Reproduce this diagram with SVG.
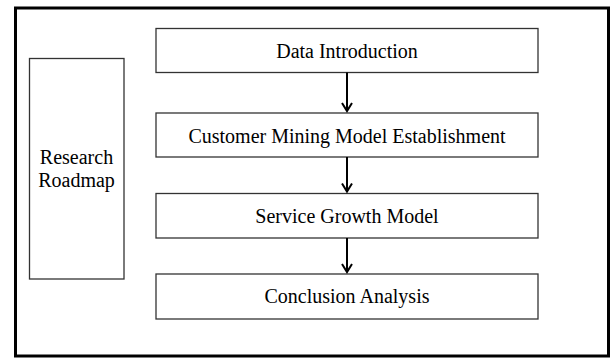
<svg xmlns="http://www.w3.org/2000/svg" width="613" height="361" viewBox="0 0 613 361">
  <defs>
    <style>
      .box { fill: #ffffff; stroke: #333333; stroke-width: 1.3; }
      .frame { fill: #ffffff; stroke: #000000; stroke-width: 3; }
      .label { font-family: "Liberation Serif", "Times New Roman", serif; font-size: 20px; fill: #000000; text-anchor: middle; }
      .link { stroke: #000000; stroke-width: 2; fill: none; }
      .head { fill: none; stroke: #000000; stroke-width: 2; }
    </style>
  </defs>
  <rect width="613" height="361" fill="#ffffff"/>
  <!-- outer frame -->
  <rect class="frame" x="15.5" y="8" width="593" height="348"/>

  <g id="roadmap">
    <rect class="box" x="29.5" y="58.5" width="94.5" height="220.5"/>
    <text class="label" x="76.5" y="164">Research</text>
    <text class="label" x="76.5" y="187">Roadmap</text>
  </g>

  <g id="data-introduction">
    <rect class="box" x="156" y="28.5" width="382" height="44"/>
    <text class="label" x="347" y="58">Data Introduction</text>
  </g>

  <g id="customer-mining">
    <rect class="box" x="156" y="113" width="382" height="44"/>
    <text class="label" x="347" y="143">Customer Mining Model Establishment</text>
  </g>

  <g id="service-growth">
    <rect class="box" x="156" y="193.5" width="382" height="44.5"/>
    <text class="label" x="347" y="223">Service Growth Model</text>
  </g>

  <g id="conclusion-analysis">
    <rect class="box" x="156" y="274" width="382" height="45"/>
    <text class="label" x="347" y="303">Conclusion Analysis</text>
  </g>

  <g id="connectors">
    <line class="link" x1="347" y1="72.5" x2="347" y2="111"/>
    <polyline class="head" points="342,103 347,111 352,103"/>
    <line class="link" x1="347" y1="157" x2="347" y2="191.5"/>
    <polyline class="head" points="342,183.5 347,191.5 352,183.5"/>
    <line class="link" x1="347" y1="238" x2="347" y2="272"/>
    <polyline class="head" points="342,264 347,272 352,264"/>
  </g>
</svg>
